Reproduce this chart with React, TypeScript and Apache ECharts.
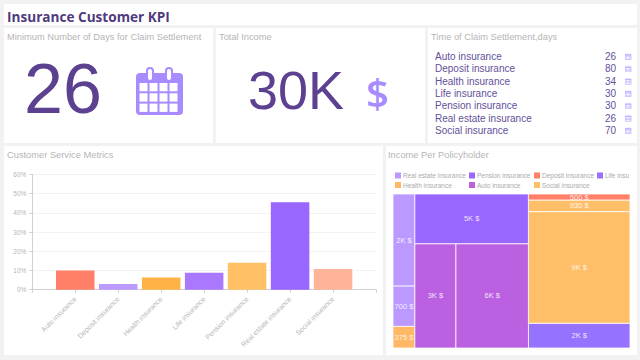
import React, { useEffect, useRef } from "react";
import * as echarts from "echarts";

const SANS = "'Liberation Sans', Arial, sans-serif";
const PURPLE_TEXT = "#5b4190";
const ICON = "#a78bff";
const GREY = "#b5b5b5";

const barCategories = ["", "Auto insurance", "Deposit insurance", "Health insurance", "Life insurance", "Pension insurance", "Real estate insurance", "Social insurance", " "];
const barValues = [null, 10, 3, 6.3, 8.8, 14, 45.5, 10.7, null];
const barColors = ["", "#ff8066", "#bb99ff", "#ffb347", "#a978ff", "#ffc066", "#9966ff", "#ffb399", ""];
const yTicks = { min: 0, max: 60, interval: 10 };

const claimNames = ["Auto insurance", "Deposit insurance", "Health insurance", "Life insurance", "Pension insurance", "Real estate insurance", "Social insurance"];
const claimDays = [26, 80, 34, 30, 30, 26, 70];

const kpiDays = "26";
const kpiIncome = "30K";

const legendColumns = [
  ["Real estate insurance", "Health insurance"],
  ["Pension insurance", "Auto insurance"],
  ["Deposit insurance", "Social insurance"],
  ["Life insurance"],
];
const treeColors: Record<string, string> = {
  "Real estate insurance": "#bb99ff",
  "Pension insurance": "#9966ff",
  "Deposit insurance": "#ff8066",
  "Life insurance": "#9673ff",
  "Health insurance": "#ffb866",
  "Auto insurance": "#ba60e0",
  "Social insurance": "#ffbf69",
};

type Leaf = { name: string; value: number };
// Each column is a list of rows, each row a list of cells; sizes come from the values.
const incomeColumns: Leaf[][][] = [
  [
    [{ name: "Real estate insurance", value: 1600 }],
    [{ name: "Real estate insurance", value: 700 }],
    [{ name: "Health insurance", value: 375 }],
  ],
  [
    [{ name: "Pension insurance", value: 4500 }],
    [{ name: "Auto insurance", value: 3400 }, { name: "Auto insurance", value: 6000 }],
  ],
  [
    [{ name: "Deposit insurance", value: 500 }],
    [{ name: "Social insurance", value: 930 }],
    [{ name: "Social insurance", value: 9000 }],
    [{ name: "Life insurance", value: 2000 }],
  ],
];

const sum = (a: number[]) => a.reduce((s, v) => s + v, 0);

function layoutCells() {
  const out: Record<string, { rect: number[]; value: number }[]> = {};
  const total = sum(incomeColumns.flat(2).map((l) => l.value));
  let x = 0;
  for (const col of incomeColumns) {
    const colTotal = sum(col.flat().map((l) => l.value));
    const w = colTotal / total;
    let y = 0;
    for (const row of col) {
      const rowTotal = sum(row.map((l) => l.value));
      const h = rowTotal / colTotal;
      let cx = x;
      for (const leaf of row) {
        const cw = (w * leaf.value) / rowTotal;
        (out[leaf.name] = out[leaf.name] || []).push({ rect: [cx, y, cx + cw, y + h], value: leaf.value });
        cx += cw;
      }
      y += h;
    }
    x += w;
  }
  return out;
}

const money = (v: number) => (v >= 1000 ? `${Math.round(v / 1000)}K $` : `${v} $`);

function calendar(x: number, y: number, scale: number, color: string) {
  const children: any[] = [
    { type: "rect", shape: { x: 0, y: 6, width: 47, height: 42, r: 4 }, style: { fill: color } },
  ];
  for (let r = 0; r < 3; r++) {
    for (let c = 0; c < 4; c++) {
      children.push({ type: "rect", shape: { x: 3.5 + c * 10, y: 16 + r * 10.3, width: 8, height: 8.3 }, style: { fill: "#fff" } });
    }
  }
  for (const tx of [11, 30]) {
    children.push({ type: "rect", shape: { x: tx, y: 1, width: 6, height: 13, r: 3 }, style: { fill: "#fff", stroke: color, lineWidth: 2 } });
  }
  return { type: "group", x, y, scaleX: scale, scaleY: scale, children };
}

const panel = (x: number, y: number, width: number, height: number) => ({
  type: "rect",
  shape: { x, y, width, height },
  style: { fill: "#ffffff" },
  silent: true,
});

const txt = (x: number, y: number, text: string, size: number, fill: string, align = "left", font = SANS, weight = "normal") => ({
  type: "text",
  x,
  y,
  style: { text, fill, align, verticalAlign: "middle", font: `${weight} ${size}px ${font}` },
});

const heading = (left: number, top: number, text: string) => ({
  text,
  left,
  top,
  padding: 0,
  textStyle: { color: GREY, fontSize: 9.3, fontWeight: "normal", fontFamily: SANS },
});

export default function App() {
  const ref = useRef<HTMLDivElement>(null);
  useEffect(() => {
    document.body.style.margin = "0";
    const chart = echarts.init(ref.current!, undefined, { renderer: "svg" });
    const cells = layoutCells();
    const names = Object.keys(treeColors);
    const treeSeries = names.map((name) => ({
      type: "custom",
      name,
      xAxisIndex: 1,
      yAxisIndex: 1,
      clip: false,
      itemStyle: { color: treeColors[name] },
      data: (cells[name] || []).map((c) => c.rect),
      encode: { x: [0, 2], y: [1, 3] },
      renderItem: (params: any, api: any) => {
        const p0 = api.coord([api.value(0), api.value(1)]);
        const p1 = api.coord([api.value(2), api.value(3)]);
        return {
          type: "rect",
          shape: { x: p0[0], y: p0[1], width: p1[0] - p0[0], height: p1[1] - p0[1] },
          style: { fill: treeColors[name], stroke: "rgba(255,255,255,0.75)", lineWidth: 1 },
          textContent: {
            style: { text: money(cells[name][params.dataIndex].value), fill: "rgba(255,255,255,0.85)", font: `7.5px ${SANS}` },
          },
          textConfig: { position: "inside" },
        };
      },
    }));

    const legendLefts = [395, 469, 534, 597];
    const option: any = {
      animation: false,
      backgroundColor: "#f2f2f2",
      title: [
        heading(7, 32, "Minimum Number of Days for Claim Settlement"),
        heading(219, 32, "Total Income"),
        heading(431, 32, "Time of Claim Settlement,days"),
        heading(7, 150, "Customer Service Metrics"),
        heading(388, 150, "Income Per Policyholder"),
      ],
      legend: legendColumns.map((data, i) => ({
        data,
        left: legendLefts[i],
        top: 172,
        orient: "vertical",
        align: "left",
        padding: 0,
        itemWidth: 6,
        itemHeight: 6,
        itemGap: 2.5,
        icon: "rect",
        selectedMode: false,
        textStyle:
          i === 3
            ? { color: "#aaaaaa", fontSize: 6.5, fontFamily: SANS, padding: [0, 0, 0, -3], width: 28, overflow: "truncate", ellipsis: "" }
            : { color: "#aaaaaa", fontSize: 6.5, fontFamily: SANS, padding: [0, 0, 0, -3] },
      })),
      grid: [
        { left: 32.3, right: 264, top: 174.3, bottom: 70.3 },
        { left: 393, right: 10, top: 194, bottom: 12 },
      ],
      xAxis: [
        {
          type: "category",
          data: barCategories,
          boundaryGap: false,
          gridIndex: 0,
          axisLine: { lineStyle: { color: "#d0d0d0" } },
          axisTick: { length: 3, lineStyle: { color: "#d0d0d0" } },
          axisLabel: { rotate: 45, fontSize: 7, color: GREY, fontFamily: SANS, interval: 0, margin: 8 },
        },
        { type: "value", gridIndex: 1, min: 0, max: 1, show: false },
      ],
      yAxis: [
        {
          type: "value",
          gridIndex: 0,
          ...yTicks,
          axisLine: { show: true, lineStyle: { color: "#d0d0d0" } },
          axisTick: { show: true, length: 3, lineStyle: { color: "#d0d0d0" } },
          axisLabel: { fontSize: 6.5, color: GREY, fontFamily: SANS, formatter: "{value}%", margin: 6 },
          splitLine: { lineStyle: { color: "#f3f3f3" } },
        },
        { type: "value", gridIndex: 1, min: 0, max: 1, inverse: true, show: false },
      ],
      series: [
        {
          type: "bar",
          name: "Customer Service Metrics",
          xAxisIndex: 0,
          yAxisIndex: 0,
          barWidth: 38.5,
          data: barValues.map((value, i) => ({
            value,
            itemStyle: { color: barColors[i] || undefined },
          })),
        },
        ...treeSeries,
      ],
      graphic: [
        {
          type: "group",
          z: -1,
          children: [
            panel(4, 4, 633, 21),
            panel(4, 28, 209, 115),
            panel(216, 28, 209, 115),
            panel(428, 28, 209, 115),
            panel(4, 146, 379, 209),
            panel(386, 146, 251, 209),
          ],
        },
        txt(7, 16, "Insurance Customer KPI", 13.6, "#4f3a80", "left", "'Open Sans', sans-serif", "bold"),
        txt(63, 89, kpiDays, 70, PURPLE_TEXT, "center"),
        calendar(136, 67, 1, ICON),
        txt(296, 90, kpiIncome, 54, PURPLE_TEXT, "center"),
        txt(377.5, 92, "$", 40, ICON, "center", "'Open Sans', sans-serif", "600"),
        ...claimNames.flatMap((name, i) => {
          const y = 56.5 + i * 12.33;
          return [
            txt(435, y, name, 10, "#64509a"),
            txt(616, y, String(claimDays[i]), 10, "#64509a", "right"),
            calendar(625, y - 3.2, 0.135, "#b9a5ff"),
          ];
        }),
      ],
    };
    chart.setOption(option);
    return () => chart.dispose();
  }, []);
  return <div ref={ref} style={{ width: 640, height: 360 }} />;
}
